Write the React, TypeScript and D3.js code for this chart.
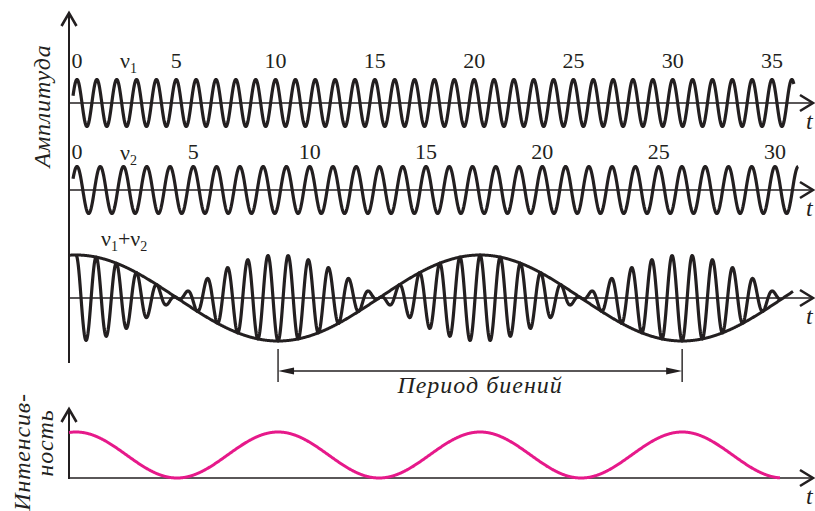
import React from "react";
import * as d3 from "d3";

// time in units of one ν1 period
const nu1Ticks = [0, 5, 10, 15, 20, 25, 30, 35];
const nu2Ticks = [0, 5, 10, 15, 20, 25, 30];
const nu1Period = 1;
const nu2Period = 1.1717;
const nu1Range = [-0.2, 36.1];
const nu2Range = [-0.2, 36.32];
// beat pattern
const beatPeriod = 20.35; // envelope period
const carrierPerBeat = 20; // carrier cycles in one envelope period
const beatPeak = -0.05; // t of first envelope maximum
const sumRange = [-0.05, 35.4];
const envelopeRange = [-0.35, 36.06];
const intensityRange = [-0.4, 35.4];

const W = 815;
const H = 511;
const axisX = 69;
const axisEnd = 813;
const ink = "#231f20";
const magenta = "#e6198a";
const font = "'Liberation Serif', 'Times New Roman', serif";

const x = d3.scaleLinear().domain([0, 35]).range([77, 772]);
const y1 = d3.scaleLinear().domain([-1, 1]).range([126.5, 79.5]);
const y2 = d3.scaleLinear().domain([-1, 1]).range([213.5, 166.5]);
const y3 = d3.scaleLinear().domain([-1, 1]).range([341, 255]);
const y4 = d3.scaleLinear().domain([0, 1]).range([478, 432]);

const samples = (r: number[]) => d3.range(r[0], r[1], 0.02).concat([r[1]]);

const line = (yS: d3.ScaleLinear<number, number>, f: (t: number) => number) =>
  d3
    .line<number>()
    .x((t) => x(t))
    .y((t) => yS(f(t)));

const env = (t: number) => Math.cos((2 * Math.PI * (t - beatPeak)) / beatPeriod);
const carrier = (t: number) =>
  Math.cos((2 * Math.PI * carrierPerBeat * (t - beatPeak)) / beatPeriod);

const wave1 = line(y1, (t) => Math.cos((2 * Math.PI * t) / nu1Period))(samples(nu1Range));
const wave2 = line(y2, (t) => Math.cos((2 * Math.PI * t) / nu2Period))(samples(nu2Range));
const sumWave = line(y3, (t) => env(t) * carrier(t))(samples(sumRange));
const envWave = line(y3, env)(samples(envelopeRange));
const intensity = line(y4, (t) => env(t) * env(t))(samples(intensityRange));

// envelope minima bounding the beat-period arrow
const beatStart = beatPeak + beatPeriod / 2;
const beatEnd = beatStart + beatPeriod;

const HAxis = ({ yPos }: { yPos: number }) => (
  <g stroke={ink} fill="none">
    <line x1={axisX} x2={axisEnd - 1} y1={yPos} y2={yPos} strokeWidth={1.6} />
    <polyline
      points={`${axisEnd - 13},${yPos - 8} ${axisEnd},${yPos} ${axisEnd - 13},${yPos + 8}`}
      strokeWidth={2.6}
    />
    <text
      x={axisEnd - 7}
      y={yPos + 26}
      fontFamily={font}
      fontStyle="italic"
      fontSize={24}
      fill={ink}
      stroke="none"
    >
      t
    </text>
  </g>
);

const Nu = ({ xPos, yPos, sub }: { xPos: number; yPos: number; sub: string }) => (
  <text x={xPos} y={yPos} fontFamily={font} fontSize={22} fill={ink}>
    ν<tspan fontSize={14} dy={5}>{sub}</tspan>
  </text>
);

const VLabel = ({ cx, cy, children }: { cx: number; cy: number; children: string }) => (
  <text
    transform={`translate(${cx},${cy}) rotate(-90)`}
    textAnchor="middle"
    fontFamily={font}
    fontStyle="italic"
    fontSize={24}
    letterSpacing={0.8}
    fill={ink}
  >
    {children}
  </text>
);

export default function App() {
  const bx0 = x(beatStart);
  const bx1 = x(beatEnd);
  const ay = 371;
  return (
    <svg width={W} height={H} style={{ position: "absolute", left: 0, top: 0 }}>
      <rect width={W} height={H} fill="#fff" />
      {/* main vertical axis */}
      <line x1={axisX} x2={axisX} y1={363} y2={14} stroke={ink} strokeWidth={2} />
      <polyline
        points={`${axisX - 7.5},${26} ${axisX},${13} ${axisX + 7.5},${26}`}
        fill="none"
        stroke={ink}
        strokeWidth={2.6}
      />
      <VLabel cx={50} cy={106}>Амплитуда</VLabel>

      <HAxis yPos={103} />
      <HAxis yPos={190} />
      <HAxis yPos={298} />

      {nu1Ticks.map((k) => (
        <text key={"a" + k} x={x(k * nu1Period)} y={68} textAnchor="middle" fontFamily={font} fontSize={22} fill={ink}>
          {k}
        </text>
      ))}
      {nu2Ticks.map((k) => (
        <text key={"b" + k} x={x(k * nu2Period)} y={159} textAnchor="middle" fontFamily={font} fontSize={22} fill={ink}>
          {k}
        </text>
      ))}
      <Nu xPos={120} yPos={68} sub="1" />
      <Nu xPos={120} yPos={160} sub="2" />
      <text x={101} y={246} fontFamily={font} fontSize={22} fill={ink}>
        ν<tspan fontSize={14} dy={5}>1</tspan>
        <tspan dy={-5}>+ν</tspan>
        <tspan fontSize={14} dy={5}>2</tspan>
      </text>

      <g fill="none" stroke={ink} strokeWidth={3.2} strokeLinejoin="round">
        <path d={wave1 ?? ""} />
        <path d={wave2 ?? ""} />
        <path d={sumWave ?? ""} />
        <path d={envWave ?? ""} strokeWidth={3} />
      </g>

      {/* beat period dimension */}
      <g stroke={ink} strokeWidth={1.4}>
        <line x1={bx0} x2={bx0} y1={349} y2={382} />
        <line x1={bx1} x2={bx1} y1={349} y2={382} />
        <line x1={bx0 + 6} x2={bx1 - 6} y1={ay} y2={ay} />
      </g>
      <path
        d={`M${bx0},${ay} L${bx0 + 16},${ay - 3.5} L${bx0 + 16},${ay + 3.5} Z M${bx1},${ay} L${bx1 - 16},${ay - 3.5} L${bx1 - 16},${ay + 3.5} Z`}
        fill={ink}
      />
      <text
        x={(bx0 + bx1) / 2}
        y={393}
        textAnchor="middle"
        fontFamily={font}
        fontStyle="italic"
        fontSize={24}
        letterSpacing={1}
        fill={ink}
      >
        Период биений
      </text>

      {/* intensity panel */}
      <line x1={axisX} x2={axisX} y1={479} y2={411} stroke={ink} strokeWidth={2} />
      <polyline
        points={`${axisX - 7.5},${422} ${axisX},${409} ${axisX + 7.5},${422}`}
        fill="none"
        stroke={ink}
        strokeWidth={2.6}
      />
      <HAxis yPos={478} />
      <path d={intensity ?? ""} fill="none" stroke={magenta} strokeWidth={3} />
      <VLabel cx={30} cy={452}>Интенсив-</VLabel>
      <VLabel cx={53} cy={443}>ность</VLabel>
    </svg>
  );
}
